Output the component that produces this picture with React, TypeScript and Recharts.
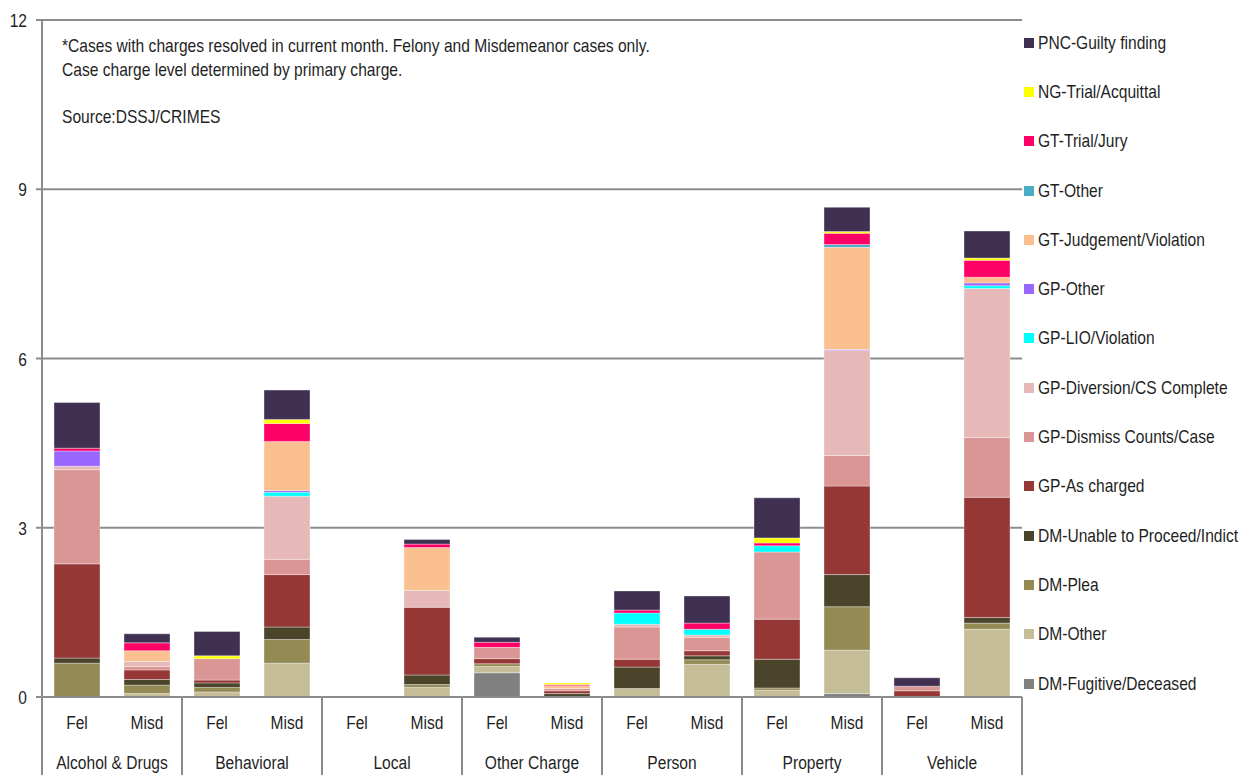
import React from "react";
import { BarChart, Bar, XAxis, YAxis, CartesianGrid } from "recharts";

const GROUPS = ["Alcohol & Drugs", "Behavioral", "Local", "Other Charge", "Person", "Property", "Vehicle"];
const LEVELS = ["Fel", "Misd"];
const Y_TICKS = [0, 3, 6, 9, 12];

// order of values: Fel, Misd for each group in GROUPS
const DM_FUGITIVE = [0, 0, 0, 0, 0, 0, 0.43, 0, 0, 0, 0, 0.06, 0, 0];
const DM_OTHER = [0, 0.06, 0.09, 0.6, 0, 0.17, 0.11, 0, 0.15, 0.58, 0.12, 0.77, 0, 1.2];
const DM_PLEA = [0.6, 0.15, 0.08, 0.42, 0, 0.05, 0.05, 0, 0, 0.08, 0.04, 0.77, 0, 0.11];
const DM_UNABLE = [0.09, 0.1, 0.08, 0.22, 0, 0.17, 0, 0.06, 0.38, 0.07, 0.51, 0.57, 0, 0.1];
const GP_AS_CHARGED = [1.67, 0.17, 0.05, 0.93, 0, 1.2, 0.09, 0.05, 0.14, 0.09, 0.71, 1.57, 0.11, 2.13];
const GP_DISMISS = [1.67, 0.06, 0.38, 0.27, 0, 0, 0.2, 0.04, 0.57, 0.24, 1.19, 0.54, 0.08, 1.06];
const GP_DIVERSION = [0.06, 0.09, 0, 1.12, 0, 0.3, 0, 0, 0.05, 0.04, 0, 1.86, 0, 2.64];
const GP_LIO = [0, 0, 0, 0.07, 0, 0, 0, 0, 0.2, 0.1, 0.11, 0, 0, 0.05];
const GP_OTHER = [0.27, 0, 0, 0.03, 0, 0, 0, 0, 0, 0, 0, 0.02, 0, 0.05];
const GT_JUDGEMENT = [0, 0.19, 0, 0.87, 0, 0.76, 0, 0.05, 0, 0, 0, 1.81, 0, 0.1];
const GT_OTHER = [0, 0, 0, 0, 0, 0, 0, 0, 0, 0, 0, 0.05, 0, 0];
const GT_TRIAL = [0.05, 0.14, 0, 0.32, 0, 0.06, 0.09, 0.02, 0.05, 0.11, 0.05, 0.2, 0, 0.3];
const NG_TRIAL = [0, 0, 0.05, 0.07, 0, 0, 0, 0.03, 0, 0, 0.09, 0.03, 0, 0.04];
const PNC_GUILTY = [0.81, 0.16, 0.43, 0.52, 0, 0.08, 0.09, 0, 0.34, 0.48, 0.71, 0.43, 0.15, 0.48];

// bottom of the stack first
const SERIES = [
  { key: "DM-Fugitive/Deceased", color: "#808080", values: DM_FUGITIVE },
  { key: "DM-Other", color: "#C4BD97", values: DM_OTHER },
  { key: "DM-Plea", color: "#948A54", values: DM_PLEA },
  { key: "DM-Unable to Proceed/Indict", color: "#4A452A", values: DM_UNABLE },
  { key: "GP-As charged", color: "#953735", values: GP_AS_CHARGED },
  { key: "GP-Dismiss Counts/Case", color: "#D99694", values: GP_DISMISS },
  { key: "GP-Diversion/CS Complete", color: "#E6B9B8", values: GP_DIVERSION },
  { key: "GP-LIO/Violation", color: "#00FFFF", values: GP_LIO },
  { key: "GP-Other", color: "#9966FF", values: GP_OTHER },
  { key: "GT-Judgement/Violation", color: "#FAC090", values: GT_JUDGEMENT },
  { key: "GT-Other", color: "#4BACC6", values: GT_OTHER },
  { key: "GT-Trial/Jury", color: "#FF0066", values: GT_TRIAL },
  { key: "NG-Trial/Acquittal", color: "#FFFF00", values: NG_TRIAL },
  { key: "PNC-Guilty finding", color: "#403152", values: PNC_GUILTY },
];

const rows = GROUPS.flatMap((group, gi) =>
  LEVELS.map((level, li) => {
    const row: Record<string, string | number> = { id: `${group}|${level}`, group, level };
    SERIES.forEach((s) => {
      row[s.key] = s.values[gi * LEVELS.length + li];
    });
    return row;
  })
);

const FONT = "'Liberation Sans', Arial, sans-serif";
const TEXT = "#1f1f1f";
const GRID = "#8c8c8c";
const FS = 19;
const SQUEEZE = 0.82; // the source font is a narrow Arial

const W = 1242;
const H = 767;
const Y_W = 34;
const RIGHT = 228;
const X_H = 78;
const BAND = (W - RIGHT - Y_W) / rows.length;

function NarrowText({ x, y, anchor, children }: any) {
  return (
    <text
      transform={`translate(${x},${y}) scale(${SQUEEZE},1)`}
      textAnchor={anchor}
      fontSize={FS}
      fontFamily={FONT}
      fill={TEXT}
    >
      {children}
    </text>
  );
}

function LevelTick(props: any) {
  const { x, y, index } = props;
  const row = rows[index];
  const half = BAND / 2;
  return (
    <g>
      <NarrowText x={x} y={y + 32} anchor="middle">
        {row.level}
      </NarrowText>
      {index % 2 === 0 && (
        <>
          <line x1={x - half} x2={x - half} y1={y} y2={y + X_H} stroke={GRID} strokeWidth={2} />
          <NarrowText x={x + half} y={y + 72} anchor="middle">
            {row.group}
          </NarrowText>
        </>
      )}
      {index === rows.length - 1 && (
        <line x1={x + half} x2={x + half} y1={y} y2={y + X_H} stroke={GRID} strokeWidth={2} />
      )}
    </g>
  );
}

function ValueTick(props: any) {
  const { x, y, payload } = props;
  return (
    <NarrowText x={x} y={y + 7} anchor="end">
      {payload.value}
    </NarrowText>
  );
}

const narrowHtml: React.CSSProperties = {
  fontFamily: FONT,
  fontSize: FS,
  color: TEXT,
  whiteSpace: "nowrap",
  transform: `scaleX(${SQUEEZE})`,
  transformOrigin: "0 0",
};

function LegendBox() {
  const items = [...SERIES].reverse();
  return (
    <div style={{ position: "absolute", left: 1016, top: 10 }}>
      {items.map((s) => (
        <div key={s.key} style={{ height: 49.3, display: "flex", alignItems: "center" }}>
          <span style={{ width: 10, height: 10, background: s.color, display: "inline-block", marginRight: 4 }} />
          <span style={{ ...narrowHtml, transformOrigin: "0 50%" }}>{s.key}</span>
        </div>
      ))}
    </div>
  );
}

export default function App() {
  return (
    <div style={{ position: "relative", width: W, height: H }}>
      <BarChart width={W} height={H} data={rows} margin={{ top: 12, right: RIGHT, left: 0, bottom: 0 }}>
        <CartesianGrid vertical={false} stroke={GRID} strokeWidth={2} />
        <XAxis
          dataKey="id"
          interval={0}
          height={X_H}
          tickSize={0}
          tickMargin={0}
          tick={<LevelTick />}
          axisLine={{ stroke: GRID, strokeWidth: 2 }}
          tickLine={false}
        />
        <YAxis
          domain={[0, 12]}
          ticks={Y_TICKS}
          width={Y_W}
          tickSize={6}
          tickMargin={9}
          axisLine={{ stroke: GRID, strokeWidth: 2 }}
          tickLine={{ stroke: GRID, strokeWidth: 2 }}
          tick={<ValueTick />}
        />
        {SERIES.map((s) => (
          <Bar
            key={s.key}
            dataKey={s.key}
            stackId="a"
            fill={s.color}
            barSize={46}
            stroke="#ffffff"
            strokeOpacity={0.35}
            strokeWidth={1}
            isAnimationActive={false}
          />
        ))}
      </BarChart>
      <LegendBox />
      <div style={{ ...narrowHtml, position: "absolute", left: 54, top: 26, lineHeight: "23.5px" }}>
        <div>*Cases with charges resolved in current month. Felony and Misdemeanor cases only.</div>
        <div>Case charge level determined by primary charge.</div>
        <div>&nbsp;</div>
        <div>Source:DSSJ/CRIMES</div>
      </div>
    </div>
  );
}
